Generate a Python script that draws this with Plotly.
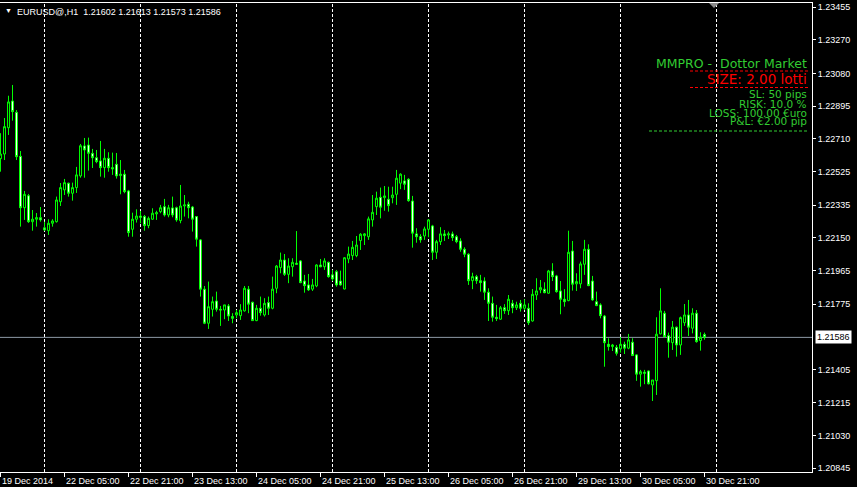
import plotly.graph_objects as go
import pandas as pd

# ---------------- data (EURUSD@ H1) ----------------
day_hours = [("2014-12-19", 13, 23), ("2014-12-22", 0, 23), ("2014-12-23", 0, 23),
             ("2014-12-24", 0, 23), ("2014-12-25", 0, 23), ("2014-12-26", 0, 23),
             ("2014-12-29", 0, 23), ("2014-12-30", 0, 23), ("2014-12-31", 0, 23)]
n_bars = 177

opens = [1.22598,1.22624,1.22773,1.22924,1.22860,1.22611,1.22320,1.22388,1.22241,1.22255,
         1.22264,1.22206,1.22190,1.22232,1.22241,1.22354,1.22421,1.22459,1.22402,1.22434,
         1.22500,1.22670,1.22675,1.22628,1.22603,1.22585,1.22547,1.22600,1.22547,1.22566,
         1.22502,1.22510,1.22415,1.22198,1.22255,1.22273,1.22270,1.22219,1.22255,1.22285,
         1.22298,1.22326,1.22279,1.22319,1.22320,1.22247,1.22330,1.22340,1.22324,1.22270,
         1.22138,1.21859,1.21666,1.21745,1.21792,1.21745,1.21741,1.21764,1.21704,1.21713,
         1.21709,1.21736,1.21859,1.21785,1.21681,1.21751,1.21713,1.21783,1.21751,1.21864,
         1.21981,1.22024,1.21943,1.21986,1.22006,1.22019,1.21905,1.21883,1.21859,1.21877,
         1.21996,1.21986,1.22011,1.21940,1.21958,1.21905,1.21860,1.22030,1.22049,1.22049,
         1.22134,1.22162,1.22156,1.22251,1.22326,1.22379,1.22377,1.22368,1.22377,1.22396,
         1.22459,1.22472,1.22481,1.22358,1.22172,1.22156,1.22160,1.22198,1.22217,1.22068,
         1.22128,1.22172,1.22166,1.22172,1.22156,1.22132,1.22085,1.22057,1.21907,1.21930,
         1.21907,1.21905,1.21842,1.21779,1.21700,1.21689,1.21754,1.21737,1.21779,1.21754,
         1.21779,1.21751,1.21751,1.21679,1.21826,1.21855,1.21859,1.21836,1.21962,1.21934,
         1.21849,1.21802,1.21794,1.22075,1.21889,1.21889,1.22000,1.22085,1.21905,1.21788,
         1.21770,1.21707,1.21547,1.21534,1.21530,1.21521,1.21547,1.21525,1.21559,1.21487,
         1.21378,1.21389,1.21396,1.21317,1.21341,1.21606,1.21723,1.21596,1.21556,1.21644,
         1.21543,1.21669,1.21713,1.21638,1.21723,1.21568,1.21602]
highs = [1.22742,1.22828,1.22954,1.23015,1.22873,1.22641,1.22415,1.22398,1.22307,1.22290,
         1.22324,1.22241,1.22255,1.22255,1.22383,1.22460,1.22483,1.22462,1.22462,1.22551,
         1.22681,1.22715,1.22717,1.22653,1.22647,1.22698,1.22653,1.22634,1.22632,1.22630,
         1.22590,1.22534,1.22421,1.22292,1.22311,1.22302,1.22279,1.22270,1.22317,1.22303,
         1.22336,1.22370,1.22336,1.22383,1.22326,1.22449,1.22392,1.22354,1.22330,1.22273,
         1.22142,1.21877,1.21902,1.21817,1.21845,1.21764,1.21770,1.21775,1.21723,1.21741,
         1.21774,1.21877,1.21877,1.21788,1.21770,1.21817,1.21808,1.21817,1.21930,1.21996,
         1.22066,1.22058,1.22034,1.22034,1.22188,1.22024,1.21940,1.21945,1.21917,1.22000,
         1.22030,1.22034,1.22015,1.21968,1.21968,1.21964,1.22040,1.22100,1.22132,1.22160,
         1.22176,1.22176,1.22270,1.22392,1.22411,1.22434,1.22443,1.22439,1.22439,1.22534,
         1.22515,1.22506,1.22487,1.22387,1.22204,1.22170,1.22213,1.22255,1.22223,1.22138,
         1.22210,1.22194,1.22185,1.22185,1.22166,1.22147,1.22096,1.22062,1.21952,1.21940,
         1.21940,1.21926,1.21864,1.21817,1.21770,1.21764,1.21774,1.21826,1.21798,1.21788,
         1.21798,1.21802,1.21779,1.21860,1.21921,1.21911,1.21898,1.21968,1.22006,1.21940,
         1.21905,1.21859,1.22190,1.22132,1.21949,1.22015,1.22138,1.22113,1.21934,1.21845,
         1.21779,1.21713,1.21581,1.21549,1.21543,1.21587,1.21562,1.21606,1.21581,1.21491,
         1.21402,1.21402,1.21399,1.21345,1.21700,1.21864,1.21736,1.21613,1.21679,1.21647,
         1.21704,1.21775,1.21798,1.21751,1.21741,1.21615,1.21613]
lows = [1.22524,1.22590,1.22732,1.22813,1.22590,1.22213,1.22251,1.22234,1.22190,1.22213,
        1.22241,1.22190,1.22166,1.22213,1.22236,1.22330,1.22392,1.22383,1.22360,1.22404,
        1.22490,1.22490,1.22530,1.22545,1.22572,1.22496,1.22490,1.22524,1.22506,1.22485,
        1.22396,1.22402,1.22156,1.22156,1.22236,1.22232,1.22190,1.22204,1.22251,1.22251,
        1.22289,1.22270,1.22266,1.22266,1.22241,1.22232,1.22270,1.22260,1.22185,1.22100,
        1.21817,1.21661,1.21634,1.21704,1.21732,1.21651,1.21689,1.21679,1.21666,1.21694,
        1.21685,1.21732,1.21723,1.21679,1.21678,1.21709,1.21704,1.21713,1.21745,1.21836,
        1.21949,1.21934,1.21893,1.21930,1.21996,1.21893,1.21839,1.21849,1.21849,1.21870,
        1.21983,1.21968,1.21924,1.21905,1.21873,1.21879,1.21858,1.22006,1.22024,1.22040,
        1.22081,1.22109,1.22138,1.22213,1.22279,1.22260,1.22303,1.22298,1.22345,1.22336,
        1.22425,1.22421,1.22354,1.22094,1.22122,1.22122,1.22138,1.22153,1.22024,1.22030,
        1.22109,1.22132,1.22143,1.22132,1.22119,1.22071,1.22040,1.21883,1.21859,1.21889,
        1.21845,1.21798,1.21679,1.21675,1.21679,1.21686,1.21719,1.21713,1.21723,1.21741,
        1.21732,1.21741,1.21656,1.21675,1.21798,1.21836,1.21836,1.21833,1.21905,1.21839,
        1.21717,1.21760,1.21791,1.21851,1.21849,1.21864,1.21940,1.21876,1.21794,1.21763,
        1.21694,1.21420,1.21511,1.21509,1.21483,1.21500,1.21492,1.21519,1.21481,1.21340,
        1.21307,1.21321,1.21320,1.21226,1.21260,1.21603,1.21587,1.21471,1.21515,1.21477,
        1.21487,1.21651,1.21594,1.21609,1.21556,1.21511,1.21573]
closes = [1.22624,1.22779,1.22919,1.22864,1.22609,1.22320,1.22396,1.22241,1.22255,1.22264,
          1.22251,1.22194,1.22232,1.22245,1.22364,1.22434,1.22462,1.22402,1.22434,1.22506,
          1.22671,1.22647,1.22628,1.22603,1.22581,1.22547,1.22600,1.22547,1.22540,1.22500,
          1.22510,1.22411,1.22179,1.22255,1.22273,1.22266,1.22219,1.22260,1.22289,1.22292,
          1.22320,1.22279,1.22320,1.22279,1.22251,1.22330,1.22336,1.22320,1.22255,1.22142,
          1.21859,1.21666,1.21760,1.21788,1.21745,1.21741,1.21770,1.21707,1.21694,1.21726,
          1.21741,1.21864,1.21774,1.21681,1.21751,1.21726,1.21779,1.21751,1.21859,1.21990,
          1.22024,1.21943,1.21990,1.22011,1.22000,1.21896,1.21879,1.21855,1.21883,1.21996,
          1.21986,1.22019,1.21930,1.21917,1.21883,1.21883,1.22037,1.22058,1.22096,1.22109,
          1.22170,1.22172,1.22257,1.22294,1.22374,1.22323,1.22387,1.22332,1.22392,1.22487,
          1.22510,1.22453,1.22360,1.22176,1.22156,1.22138,1.22200,1.22251,1.22068,1.22128,
          1.22172,1.22162,1.22172,1.22151,1.22128,1.22085,1.22057,1.21907,1.21930,1.21907,
          1.21896,1.21842,1.21779,1.21700,1.21692,1.21754,1.21737,1.21802,1.21754,1.21770,
          1.21751,1.21770,1.21669,1.21830,1.21849,1.21868,1.21839,1.21962,1.21930,1.21845,
          1.21802,1.21788,1.22068,1.21887,1.21902,1.22002,1.22085,1.21879,1.21798,1.21766,
          1.21709,1.21556,1.21534,1.21543,1.21496,1.21547,1.21525,1.21572,1.21483,1.21378,
          1.21392,1.21383,1.21323,1.21345,1.21604,1.21736,1.21590,1.21559,1.21644,1.21543,
          1.21698,1.21713,1.21644,1.21723,1.21562,1.21587,1.21586]

price_ticks = [1.23455, 1.23270, 1.23080, 1.22895, 1.22710, 1.22525, 1.22335, 1.22150,
               1.21965, 1.21775, 1.21405, 1.21215, 1.21030, 1.20845]
label_every = 16
y_range = [1.20824, 1.23479]
x_span = 203  # visible bar slots

symbol = "EURUSD@,H1"
mm_title = "MMPRO -  Dottor Market"
mm_size = "SIZE: 2.00 lotti"
mm_lines = ["SL: 50 pips", "RISK: 10.0 %", "LOSS: 100.00 \u20acuro", "P&L: \u20ac2.00 pip"]

# ---------------- time index ----------------
times = []
for d, h0, h1 in day_hours:
    for h in range(h0, h1 + 1):
        times.append(pd.Timestamp(d) + pd.Timedelta(hours=h))
idx = list(range(n_bars))
day_starts = [i for i, t in enumerate(times) if t.hour == 0 and i < x_span]

tick_pos = list(range(0, n_bars, label_every))
tick_txt = []
for k, i in enumerate(tick_pos):
    t = times[i]
    tick_txt.append(t.strftime("%d %b %Y") if k == 0 else t.strftime("%d %b %H:%M"))

LIME = "#00ff00"
W, H = 857, 487
ML, MR, MT, MB = 0, 45, 3, 15
PW, PH = W - ML - MR, H - MT - MB


def px_x(px):
    return px / PW


def px_y(py):
    return (PH + MT - py) / PH


fig = go.Figure()
fig.add_trace(go.Candlestick(
    x=idx, open=opens, high=highs, low=lows, close=closes,
    increasing=dict(line=dict(color=LIME, width=1), fillcolor="black"),
    decreasing=dict(line=dict(color=LIME, width=1), fillcolor="white"),
    whiskerwidth=0, hoverinfo="skip", showlegend=False))

shapes = []
for i in day_starts:
    shapes.append(dict(type="line", xref="x", yref="paper", x0=i, x1=i, y0=0, y1=1,
                       line=dict(color="white", width=1, dash="3px,2px"), layer="below"))
last_close = closes[-1]
shapes.append(dict(type="line", xref="paper", yref="y", x0=0, x1=1, y0=last_close, y1=last_close,
                   line=dict(color="#8c99a6", width=1), layer="below"))
# indicator separators
for (x0, x1, py, col) in [(690, 809, 71, "red"), (690, 809, 87.5, "red"), (649, 809, 131, "#32cd32")]:
    shapes.append(dict(type="line", xref="paper", yref="paper", x0=px_x(x0), x1=px_x(x1),
                       y0=px_y(py), y1=px_y(py), line=dict(color=col, width=1, dash="3px,2px")))
# chart shift marker
shapes.append(dict(type="path", xref="paper", yref="paper",
                   path=f"M {px_x(709)} {px_y(3)} L {px_x(719)} {px_y(3)} L {px_x(714)} {px_y(8)} Z",
                   fillcolor="#8a8a8a", line=dict(width=0)))

ann = []
FONT = "Liberation Sans, Arial, sans-serif"
FONT2 = "DejaVu Sans, Verdana, sans-serif"
for i, txt in zip(tick_pos, tick_txt):
    ann.append(dict(x=i, y=px_y(474), xref="x", yref="paper", text=txt, showarrow=False,
                    xanchor="left", yanchor="top", xshift=-1,
                    font=dict(color="white", size=9, family=FONT)))
ann.append(dict(x=1.0, y=last_close, xref="paper", yref="y", text=f"{last_close:.5f}",
                showarrow=False, xanchor="left", yanchor="middle", xshift=3,
                bgcolor="white", borderpad=1, font=dict(color="black", size=9, family=FONT)))
hdr = f"{symbol}  {opens[-1]:.5f} {highs[-1]:.5f} {lows[-1]:.5f} {closes[-1]:.5f}"
ann.append(dict(x=px_x(3), y=px_y(11), xref="paper", yref="paper", text="\u25bc", showarrow=False,
                xanchor="left", yanchor="middle", font=dict(color="white", size=7, family=FONT)))
ann.append(dict(x=px_x(15), y=px_y(12), xref="paper", yref="paper", text=hdr, showarrow=False,
                xanchor="left", yanchor="middle", font=dict(color="white", size=9, family=FONT)))
RX = px_x(809)
ann.append(dict(x=RX, y=px_y(63), xref="paper", yref="paper", text=mm_title, showarrow=False,
                xanchor="right", yanchor="middle", font=dict(color="#32cd32", size=12.5, family=FONT2)))
ann.append(dict(x=RX, y=px_y(79), xref="paper", yref="paper", text=mm_size, showarrow=False,
                xanchor="right", yanchor="middle", font=dict(color="#ff0000", size=13.5, family=FONT2)))
for py, t in zip([94.5, 103.5, 112.5, 121.5], mm_lines):
    ann.append(dict(x=RX, y=px_y(py), xref="paper", yref="paper", text=t, showarrow=False,
                    xanchor="right", yanchor="middle", font=dict(color="#32cd32", size=10.5, family=FONT2)))

fig.update_layout(
    width=W, height=H, margin=dict(l=ML, r=MR, t=MT, b=MB, autoexpand=False),
    paper_bgcolor="black", plot_bgcolor="black",
    shapes=shapes, annotations=ann, showlegend=False, hovermode=False,
    xaxis=dict(range=[-0.125, x_span - 0.125], rangeslider=dict(visible=False),
               tickvals=tick_pos, ticktext=[""] * len(tick_pos), ticks="outside", ticklen=4,
               tickcolor="white", showgrid=False, zeroline=False, showline=True, mirror=True,
               linecolor="white", linewidth=1, fixedrange=True),
    yaxis=dict(range=y_range, side="right", tickvals=price_ticks,
               ticktext=[f"{v:.5f}" for v in price_ticks], ticks="outside", ticklen=3,
               tickcolor="white", showgrid=False, zeroline=False, showline=True,
               linecolor="white", linewidth=1, tickfont=dict(color="white", size=9, family=FONT),
               fixedrange=True),
)

fig.write_html("out.html", config={"displayModeBar": False})

# remove the browser's default page margin so the figure sits at the window origin
with open("out.html", "r", encoding="utf-8") as f:
    html = f.read()
html = html.replace("<head>", "<head><style>html,body{margin:0;padding:0;background:#000;overflow:hidden;}</style>", 1)
with open("out.html", "w", encoding="utf-8") as f:
    f.write(html)
